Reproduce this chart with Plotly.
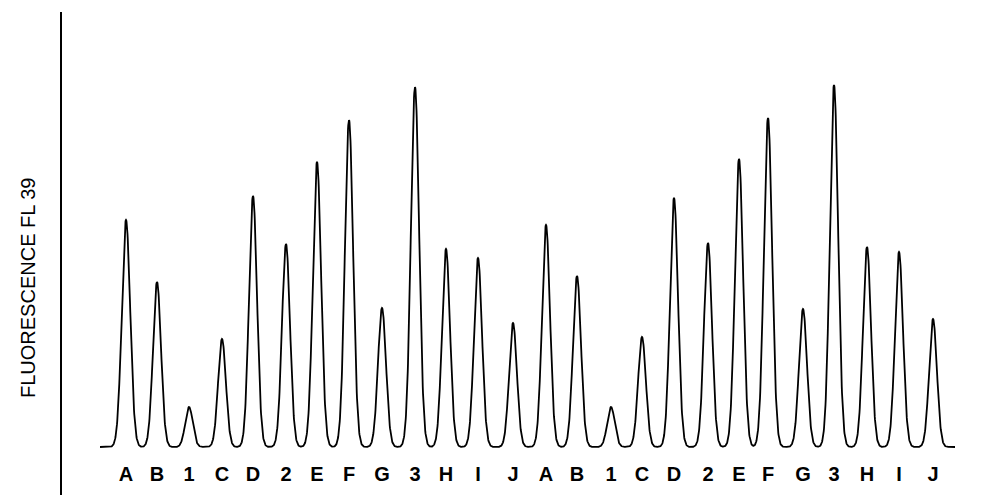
import numpy as np
import plotly.graph_objects as go

# Peak labels (elution order, two repeated injections)
labels = ["A", "B", "1", "C", "D", "2", "E", "F", "G", "3", "H", "I", "J",
          "A", "B", "1", "C", "D", "2", "E", "F", "G", "3", "H", "I", "J"]

# Retention positions (arbitrary time units)
retention = [126, 157, 189, 222, 253, 286, 317, 349, 382, 415, 446, 478, 513,
             546, 577, 611, 642, 674, 708, 739, 768, 803, 834, 867, 899, 933]

# Peak heights (fluorescence, arbitrary units above baseline)
heights = [227, 165, 40, 108, 251, 203, 285, 327, 139, 360, 198, 189, 124,
           222, 171, 40, 110, 249, 204, 288, 329, 138, 362, 200, 195, 128]

# Peak widths (sigma, time units)
widths = [4.2, 4.0, 3.8, 3.9, 4.0, 4.0, 4.1, 4.1, 4.0, 4.1, 4.0, 4.0, 3.9,
          4.0, 4.0, 3.8, 3.9, 4.0, 4.0, 4.1, 4.1, 4.0, 4.1, 4.0, 4.0, 3.9]

run_start, run_end = 100, 955

t = np.arange(run_start, run_end + 0.25, 0.25)
signal = np.zeros_like(t, dtype=float)
for r, h, s in zip(retention, heights, widths):
    signal += h * np.exp(-0.5 * ((t - r) / s) ** 2)

fig = go.Figure()
fig.add_trace(go.Scatter(
    x=t, y=signal, mode="lines",
    line=dict(color="black", width=1.8),
    hoverinfo="skip", showlegend=False,
))

label_y = -29
fig.add_trace(go.Scatter(
    x=retention, y=[label_y] * len(labels), mode="text", text=labels,
    textfont=dict(family="Liberation Sans, Arial, sans-serif", size=20,
                  color="black", weight="bold"),
    textposition="middle center", hoverinfo="skip", showlegend=False,
))

W, H = 995, 495
L, R, T, B = 62, 15, 12, 0
fig.update_layout(
    width=W, height=H,
    margin=dict(l=L, r=R, t=T, b=B, pad=0),
    paper_bgcolor="white", plot_bgcolor="white",
    showlegend=False,
    xaxis=dict(range=[62, 980], visible=False, fixedrange=True),
    yaxis=dict(range=[-48, 435], showline=True, linecolor="black", linewidth=2,
               showticklabels=False, ticks="", showgrid=False, zeroline=False,
               fixedrange=True),
    annotations=[dict(
        text="FLUORESCENCE FL 39", textangle=-90,
        x=(28 - L) / (W - L - R), y=1 - (288 - T) / (H - T - B),
        xref="paper", yref="paper", xanchor="center", yanchor="middle",
        showarrow=False,
        font=dict(family="Liberation Sans, Arial, sans-serif", size=20, color="black"),
    )],
)

fig.write_html("out.html", config={"displayModeBar": False},
               post_script="document.body.style.margin='0';document.body.style.overflow='hidden';")
